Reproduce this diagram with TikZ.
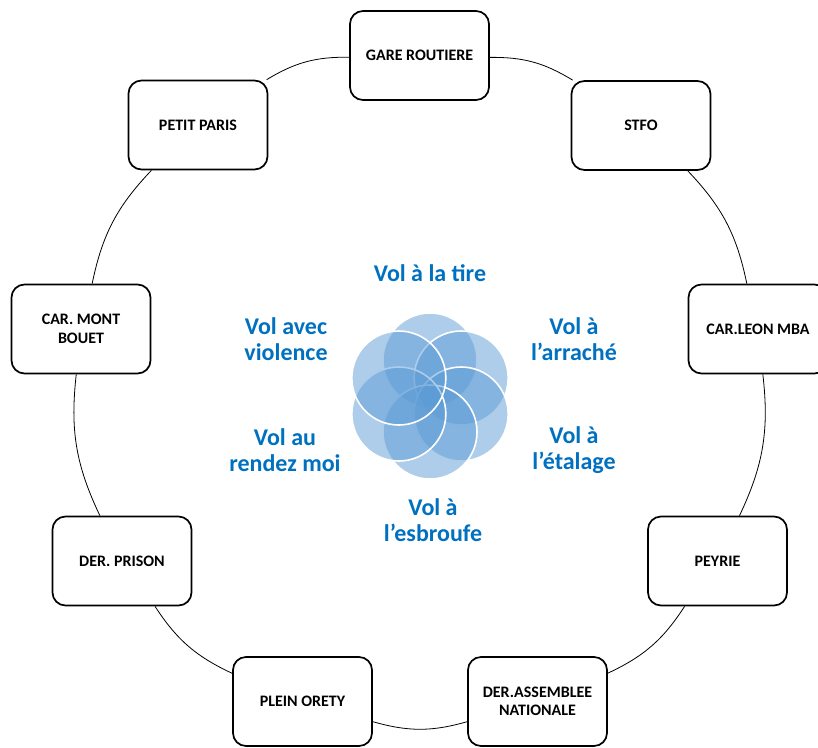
\documentclass[tikz,border=0pt]{standalone}
\usepackage{fontspec}
\setmainfont{Carlito}
\usepackage{tikz}
\usetikzlibrary{positioning,calc}
\definecolor{volblue}{HTML}{0070C0}
\definecolor{petalblue}{HTML}{5B9BD5}
\tikzset{
  stopbox/.style = {draw, line width=1.7pt, rectangle, rounded corners=13pt,
                    fill=white, minimum width=139pt, minimum height=89pt,
                    align=center, font=\bfseries\fontsize{16}{18.5}\selectfont},
  petal/.style   = {circle, inner sep=0pt, minimum size=94pt, fill=petalblue,
                    fill opacity=0.5, draw=white, line width=1.6pt},
  vol/.style     = {text=volblue, align=center,
                    font=\bfseries\fontsize{24}{25.5}\selectfont},
  link/.style    = {line width=0.8pt, bend left=16},
}

\begin{document}
\begin{tikzpicture}[x=1pt, y=-1pt]
\useasboundingbox (0,0) rectangle (818,747);
% stations round the ring
\node[stopbox] (gare) at (419.5,55.5) {GARE ROUTIERE};
\node[stopbox] (stfo) at (641,125.5) {STFO};
\node[stopbox] (leon) at (758,329) {CAR.LEON MBA};
\node[stopbox] (peyrie) at (717.5,561) {PEYRIE};
\node[stopbox] (assemblee) at (537.5,701.5) {DER.ASSEMBLEE\\NATIONALE};
\node[stopbox] (orety) at (302.5,701.5) {PLEIN ORETY};
\node[stopbox] (prison) at (122,561) {DER. PRISON};
\node[stopbox] (bouet) at (81,329) {CAR. MONT\\BOUET};
\node[stopbox] (petit) at (198,125) {PETIT PARIS};

\draw (gare) edge[link] (stfo)
      (stfo) edge[link] (leon)
      (leon) edge[link] (peyrie)
      (peyrie) edge[link] (assemblee)
      (assemblee) edge[link] (orety)
      (orety) edge[link] (prison)
      (prison) edge[link] (bouet)
      (bouet) edge[link] (petit)
      (petit) edge[link] (gare);

% flower of six rings
\coordinate (fc) at (430,396);
\foreach \a [count=\i] in {90,30,-30,-90,-150,150}
  \node[petal] (p\i) at ($(fc)+(\a:36pt)$) {};

\node[vol] (tire) at (430,273) {Vol à la tire};
\node[vol] (arrache) at (574,339) {Vol à\\l’arraché};
\node[vol] (etalage) at (574,450) {Vol à\\l’étalage};
\node[vol] (esbroufe) at (433,520) {Vol à\\l’esbroufe};
\node[vol] (rendez) at (285,450) {Vol au\\rendez moi};
\node[vol] (violence) at (286,339) {Vol avec\\violence};
\end{tikzpicture}
\end{document}
